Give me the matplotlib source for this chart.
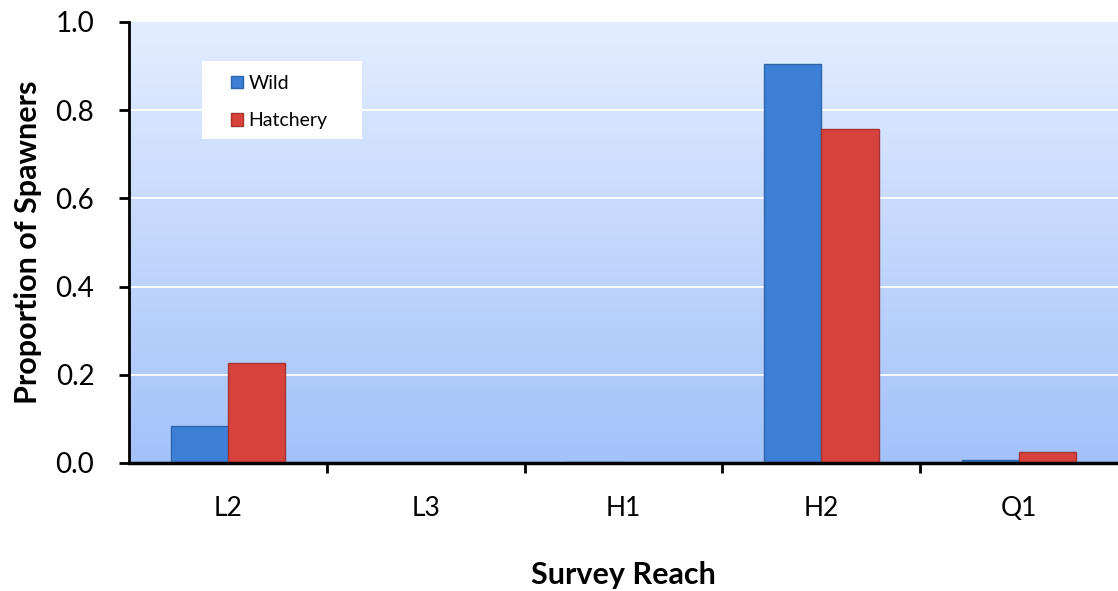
import numpy as np
import matplotlib.pyplot as plt
from matplotlib.patches import Rectangle

reaches = ["L2", "L3", "H1", "H2", "Q1"]
wild = [0.084, 0.0, 0.002, 0.905, 0.006]
hatchery = [0.227, 0.0, 0.0, 0.757, 0.025]

plt.rcParams['font.family'] = ['Lato', 'DejaVu Sans']

fig = plt.figure(figsize=(11.18, 5.91), dpi=100)
ax = fig.add_axes([0.1154, 0.2166, 0.8846, 0.7462])

# gradient background
grad = np.linspace(0, 1, 256).reshape(-1, 1)
top = np.array([0.89, 0.93, 1.0])
bot = np.array([0.64, 0.76, 0.98])
img = top + (bot - top) * grad[:, :, None]
ax.imshow(img, extent=[-0.5, 4.5, 0, 1], aspect='auto', origin='upper', zorder=0)

x = np.arange(len(reaches))
w = 0.29
ax.bar(x - w / 2, wild, w, color='#3b80d6', edgecolor='#2f64a8', linewidth=1, zorder=3, label='Wild')
ax.bar(x + w / 2, hatchery, w, color='#d8423d', edgecolor='#a83430', linewidth=1, zorder=3, label='Hatchery')

for yv in [0.2, 0.4, 0.6, 0.8]:
    ax.axhline(yv, color='white', lw=1.3, zorder=1)

ax.set_xlim(-0.5, 4.5)
ax.set_ylim(0, 1.0)
ax.set_yticks(np.arange(0, 1.01, 0.2))
ax.set_yticklabels([f"{v:.1f}" for v in np.arange(0, 1.01, 0.2)])
ax.set_xticks(x)
ax.set_xticklabels(reaches)
ax.set_xticks(np.arange(0.5, 4.5, 1), minor=True)
ax.tick_params(axis='x', which='major', length=0, pad=24, labelsize=19)
ax.tick_params(axis='x', which='minor', length=7, width=2, direction='out')
ax.tick_params(axis='y', length=7, width=2, direction='out', labelsize=20, pad=18)

for s in ['top', 'right']:
    ax.spines[s].set_visible(False)
ax.spines['left'].set_linewidth(2)
ax.spines['bottom'].set_linewidth(2.5)
ax.spines['bottom'].set_zorder(5)

ax.set_ylabel("Proportion of Spawners", fontsize=22, fontweight='bold')
ax.yaxis.set_label_coords(-0.102, 0.5)
ax.yaxis.label.set_va('center')
ax.set_xlabel("Survey Reach", fontsize=22, fontweight='bold')
ax.xaxis.set_label_coords(0.5, -0.254)
ax.xaxis.label.set_va('center')

# legend box (fixed size, like the original)
ax.add_patch(Rectangle((0.0738, 0.7347), 0.1618, 0.177, transform=ax.transAxes,
                       facecolor='white', edgecolor='none', zorder=6))
leg = ax.legend(loc='upper left', bbox_to_anchor=(0.103, 0.88), fontsize=14,
                frameon=False, handlelength=0.6, handleheight=0.6,
                handletextpad=0.3, borderpad=0, labelspacing=1.05,
                borderaxespad=0)
leg.set_zorder(7)

fig.savefig("out.png", dpi=100)
